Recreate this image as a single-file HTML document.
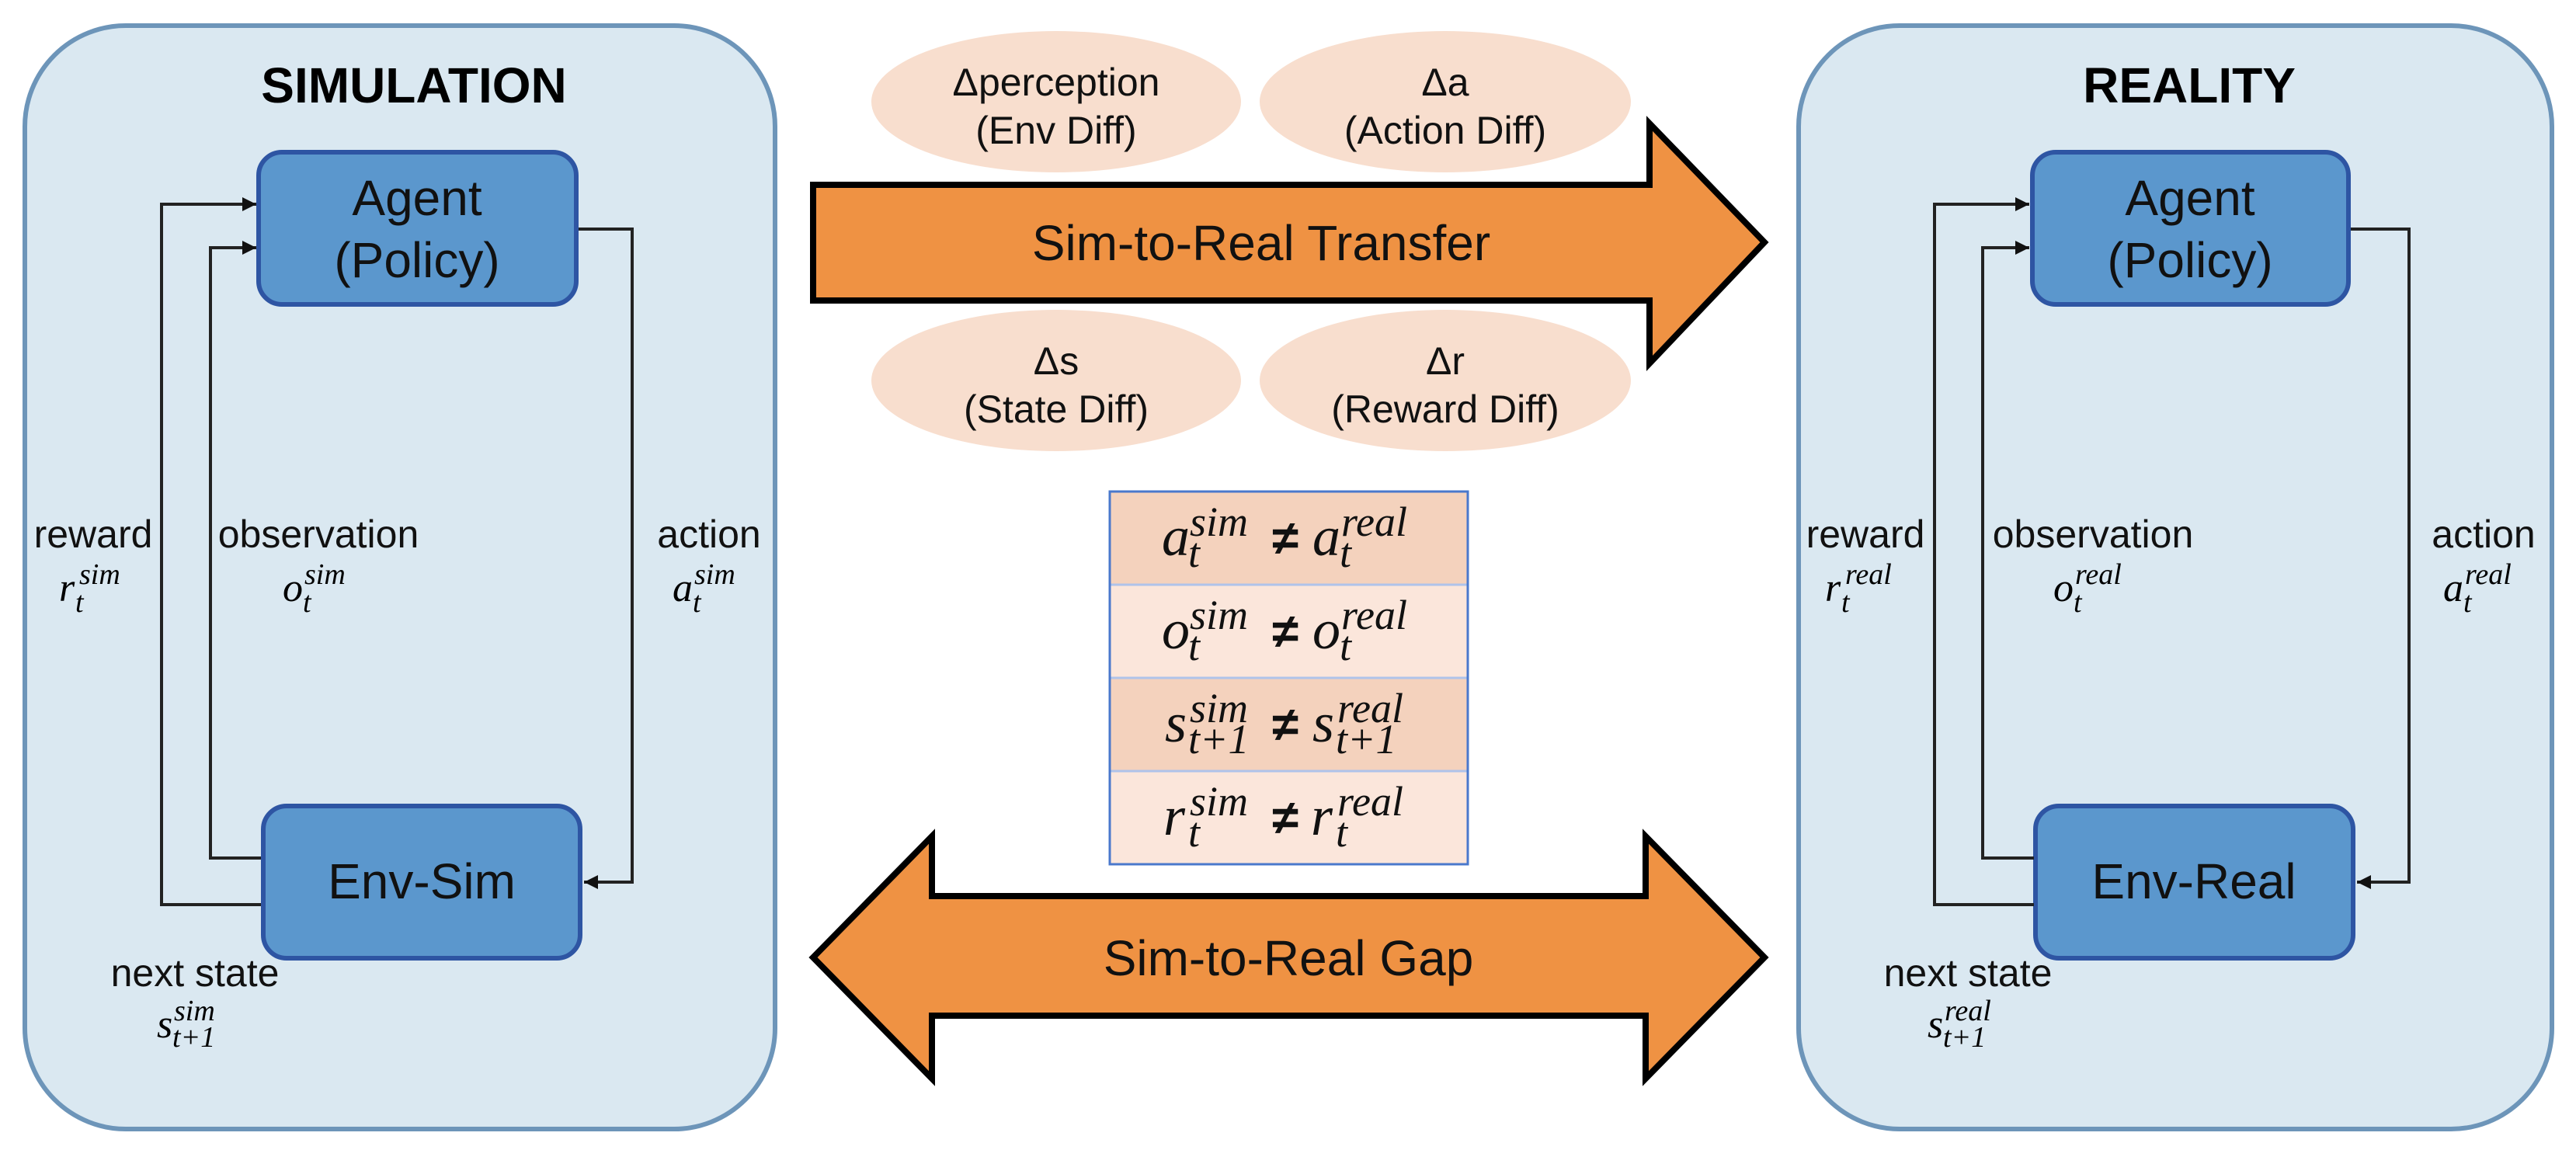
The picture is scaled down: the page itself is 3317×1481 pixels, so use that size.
<!DOCTYPE html>
<html><head><meta charset="utf-8"><style>
html,body{margin:0;padding:0;background:#fff}
svg{display:block}
.s{font-family:"Liberation Sans",sans-serif}
.m{font-family:"Liberation Serif",serif;font-style:italic}
</style></head><body>
<svg width="3317" height="1481" viewBox="0 0 3317 1481" xmlns="http://www.w3.org/2000/svg">
<defs>
<marker id="a2" viewBox="0 0 10 10" markerWidth="22" markerHeight="18" refX="10" refY="5" orient="auto" markerUnits="userSpaceOnUse">
<path d="M0,0 L10,5 L0,10 z" fill="#111"/>
</marker>
</defs>

<!-- Simulation panel -->
<rect x="32" y="33" width="966" height="1421" rx="130" fill="#DAE8F1" stroke="#6D95B9" stroke-width="6"/>
<text x="533" y="132" class="s" font-size="64" font-weight="bold" text-anchor="middle">SIMULATION</text>
<rect x="333" y="196" width="409" height="196" rx="30" fill="#5B97CD" stroke="#2E55A3" stroke-width="6"/>
<text x="537" y="277" class="s" font-size="64" text-anchor="middle" fill="#111">Agent</text>
<text x="537" y="357" class="s" font-size="64" text-anchor="middle" fill="#111">(Policy)</text>
<rect x="339" y="1038" width="408" height="196" rx="30" fill="#5B97CD" stroke="#2E55A3" stroke-width="6"/>
<text x="543" y="1157" class="s" font-size="64" text-anchor="middle" fill="#111">Env-Sim</text>
<path d="M336,1165 H208 V263 H330" fill="none" stroke="#222" stroke-width="4" marker-end="url(#a2)"/>
<path d="M336,1105 H271 V319 H330" fill="none" stroke="#222" stroke-width="4" marker-end="url(#a2)"/>
<path d="M745,295 H814 V1136 H752" fill="none" stroke="#222" stroke-width="4" marker-end="url(#a2)"/>
<text x="120" y="705" class="s" font-size="50" text-anchor="middle" fill="#111">reward</text>
<text x="410" y="705" class="s" font-size="50" text-anchor="middle" fill="#111">observation</text>
<text x="913" y="705" class="s" font-size="50" text-anchor="middle" fill="#111">action</text>
<text x="251" y="1270" class="s" font-size="50" text-anchor="middle" fill="#111">next state</text>
<text x="76" y="774" class="m" font-size="52">r</text><text x="102" y="752" class="m" font-size="38">sim</text><text x="97" y="788" class="m" font-size="38">t</text>
<text x="364" y="774" class="m" font-size="52">o</text><text x="392" y="752" class="m" font-size="38">sim</text><text x="390" y="788" class="m" font-size="38">t</text>
<text x="866" y="774" class="m" font-size="52">a</text><text x="894" y="752" class="m" font-size="38">sim</text><text x="892" y="788" class="m" font-size="38">t</text>
<text x="202" y="1336" class="m" font-size="52">s</text><text x="224" y="1314" class="m" font-size="38">sim</text><text x="222" y="1348" class="m" font-size="38">t+1</text>

<!-- Reality panel -->
<rect x="2316" y="33" width="970" height="1421" rx="130" fill="#DAE8F1" stroke="#6D95B9" stroke-width="6"/>
<text x="2819" y="132" class="s" font-size="64" font-weight="bold" text-anchor="middle">REALITY</text>
<rect x="2617" y="196" width="407" height="196" rx="30" fill="#5B97CD" stroke="#2E55A3" stroke-width="6"/>
<text x="2820" y="277" class="s" font-size="64" text-anchor="middle" fill="#111">Agent</text>
<text x="2820" y="357" class="s" font-size="64" text-anchor="middle" fill="#111">(Policy)</text>
<rect x="2621" y="1038" width="409" height="196" rx="30" fill="#5B97CD" stroke="#2E55A3" stroke-width="6"/>
<text x="2825" y="1157" class="s" font-size="64" text-anchor="middle" fill="#111">Env-Real</text>
<path d="M2619,1165 H2491 V263 H2613" fill="none" stroke="#222" stroke-width="4" marker-end="url(#a2)"/>
<path d="M2619,1105 H2553 V319 H2613" fill="none" stroke="#222" stroke-width="4" marker-end="url(#a2)"/>
<path d="M3027,295 H3102 V1136 H3035" fill="none" stroke="#222" stroke-width="4" marker-end="url(#a2)"/>
<text x="2402" y="705" class="s" font-size="50" text-anchor="middle" fill="#111">reward</text>
<text x="2695" y="705" class="s" font-size="50" text-anchor="middle" fill="#111">observation</text>
<text x="3198" y="705" class="s" font-size="50" text-anchor="middle" fill="#111">action</text>
<text x="2534" y="1270" class="s" font-size="50" text-anchor="middle" fill="#111">next state</text>
<text x="2350" y="774" class="m" font-size="52">r</text><text x="2376" y="752" class="m" font-size="38">real</text><text x="2371" y="788" class="m" font-size="38">t</text>
<text x="2644" y="774" class="m" font-size="52">o</text><text x="2672" y="752" class="m" font-size="38">real</text><text x="2670" y="788" class="m" font-size="38">t</text>
<text x="3146" y="774" class="m" font-size="52">a</text><text x="3174" y="752" class="m" font-size="38">real</text><text x="3172" y="788" class="m" font-size="38">t</text>
<text x="2482" y="1336" class="m" font-size="52">s</text><text x="2504" y="1314" class="m" font-size="38">real</text><text x="2502" y="1348" class="m" font-size="38">t+1</text>

<!-- Ellipses -->
<g fill="#F8DECE">
<ellipse cx="1360" cy="131" rx="238" ry="91"/>
<ellipse cx="1861" cy="131" rx="239" ry="91"/>
<ellipse cx="1360" cy="490" rx="238" ry="91"/>
<ellipse cx="1861" cy="490" rx="239" ry="91"/>
</g>
<g class="s" font-size="50" text-anchor="middle" fill="#111">
<text x="1360" y="123">Δperception</text><text x="1360" y="185">(Env Diff)</text>
<text x="1861" y="123">Δa</text><text x="1861" y="185">(Action Diff)</text>
<text x="1360" y="482">Δs</text><text x="1360" y="544">(State Diff)</text>
<text x="1861" y="482">Δr</text><text x="1861" y="544">(Reward Diff)</text>
</g>

<!-- Transfer arrow -->
<path d="M1047,238 H2124 V159 L2272,312 L2124,468 V387 H1047 Z" fill="#EF9243" stroke="#000" stroke-width="8" stroke-linejoin="miter"/>
<text x="1624" y="335" class="s" font-size="64" text-anchor="middle" fill="#111">Sim-to-Real Transfer</text>

<!-- Gap arrow -->
<path d="M1047,1233 L1200,1077 V1154 H2119 V1077 L2272,1233 L2119,1389 V1308 H1200 V1389 Z" fill="#EF9243" stroke="#000" stroke-width="8" stroke-linejoin="miter"/>
<text x="1659" y="1256" class="s" font-size="64" text-anchor="middle" fill="#111">Sim-to-Real Gap</text>

<!-- Table -->
<rect x="1429" y="633" width="461" height="120" fill="#F4D2BD"/>
<rect x="1429" y="753" width="461" height="120" fill="#FBE6DB"/>
<rect x="1429" y="873" width="461" height="120" fill="#F4D2BD"/>
<rect x="1429" y="993" width="461" height="120" fill="#FBE6DB"/>
<g stroke="#AFC3EA" stroke-width="3"><line x1="1429" y1="753" x2="1890" y2="753"/><line x1="1429" y1="873" x2="1890" y2="873"/><line x1="1429" y1="993" x2="1890" y2="993"/></g>
<rect x="1429" y="633" width="461" height="480" fill="none" stroke="#4A78CC" stroke-width="3"/>
<g class="m" fill="#111">
<text x="1496" y="715" font-size="72">a</text><text x="1532" y="690" font-size="54">sim</text><text x="1530" y="730" font-size="54">t</text>
<text x="1690" y="715" font-size="72">a</text><text x="1727" y="690" font-size="54">real</text><text x="1725" y="730" font-size="54">t</text>
<text x="1496" y="835" font-size="72">o</text><text x="1532" y="810" font-size="54">sim</text><text x="1530" y="850" font-size="54">t</text>
<text x="1690" y="835" font-size="72">o</text><text x="1727" y="810" font-size="54">real</text><text x="1725" y="850" font-size="54">t</text>
<text x="1500" y="955" font-size="72">s</text><text x="1532" y="930" font-size="54">sim</text><text x="1530" y="970" font-size="54">t+1</text>
<text x="1690" y="955" font-size="72">s</text><text x="1722" y="930" font-size="54">real</text><text x="1720" y="970" font-size="54">t+1</text>
<text x="1498" y="1075" font-size="72">r</text><text x="1532" y="1050" font-size="54">sim</text><text x="1530" y="1090" font-size="54">t</text>
<text x="1688" y="1075" font-size="72">r</text><text x="1722" y="1050" font-size="54">real</text><text x="1720" y="1090" font-size="54">t</text>
</g>
<g class="s" font-size="62" font-weight="bold" text-anchor="middle" fill="#111">
<text x="1655" y="714">≠</text><text x="1655" y="834">≠</text><text x="1655" y="954">≠</text><text x="1655" y="1074">≠</text>
</g>
</svg>
</body></html>
